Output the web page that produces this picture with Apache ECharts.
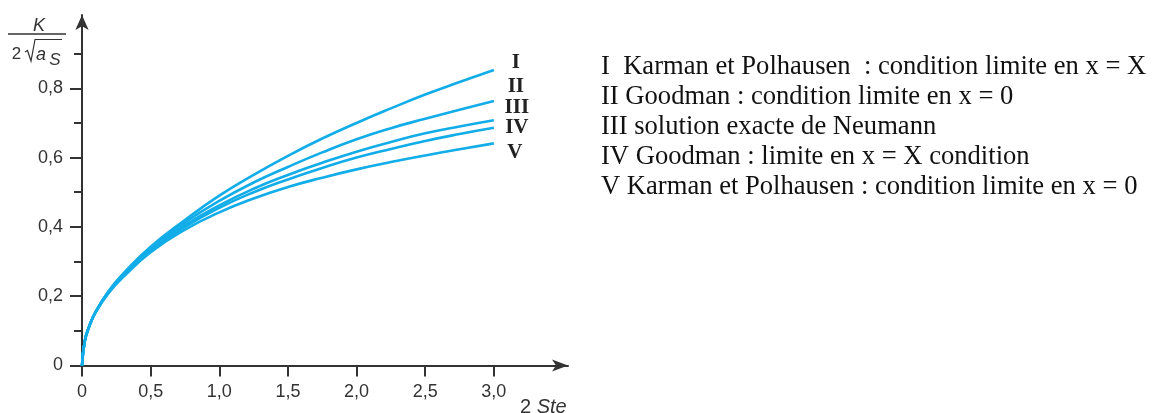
<!DOCTYPE html>
<html>
<head>
<meta charset="utf-8">
<script src="https://cdn.jsdelivr.net/npm/echarts@6/dist/echarts.min.js"></script>
<style>
  html, body { margin: 0; padding: 0; background: #ffffff; }
  #chart { width: 1156px; height: 413px; }
</style>
</head>
<body>
<div id="chart"></div>
<script>
// Abscissa: 2 Ste
const steValues = [0, 0.02, 0.05, 0.1, 0.2, 0.3, 0.5, 0.75, 1.0, 1.25, 1.5, 1.75, 2.0, 2.25, 2.5, 2.75, 3.0];

// Ordinate K / (2 sqrt(a_S)) for each model
const curveI   = [0, 0.07, 0.11, 0.156, 0.218, 0.265, 0.343, 0.420, 0.490, 0.550, 0.605, 0.655, 0.700, 0.742, 0.782, 0.818, 0.853];
const curveII  = [0, 0.07, 0.11, 0.155, 0.216, 0.262, 0.340, 0.413, 0.475, 0.528, 0.573, 0.615, 0.653, 0.685, 0.712, 0.738, 0.763];
const curveIII = [0, 0.07, 0.11, 0.155, 0.216, 0.262, 0.335, 0.405, 0.462, 0.510, 0.550, 0.585, 0.617, 0.645, 0.670, 0.690, 0.708];
const curveIV  = [0, 0.07, 0.11, 0.155, 0.214, 0.258, 0.332, 0.400, 0.455, 0.500, 0.537, 0.570, 0.600, 0.625, 0.648, 0.668, 0.686];
const curveV   = [0, 0.07, 0.11, 0.154, 0.212, 0.255, 0.327, 0.392, 0.442, 0.482, 0.515, 0.542, 0.566, 0.587, 0.606, 0.624, 0.641];

const curveNames = ['I', 'II', 'III', 'IV', 'V'];
const curves = [curveI, curveII, curveIII, curveIV, curveV];

const xTickValues = [0, 0.5, 1.0, 1.5, 2.0, 2.5, 3.0];
const xTickLabels = ['0', '0,5', '1,0', '1,5', '2,0', '2,5', '3,0'];
const yMajorTicks = [0, 0.2, 0.4, 0.6, 0.8];
const yTickLabels = ['0', '0,2', '0,4', '0,6', '0,8'];
const yMinorTicks = [0.1, 0.3, 0.5, 0.7, 0.9];

const legendLines = [
  'I  Karman et Polhausen  : condition limite en x = X',
  'II Goodman : condition limite en x = 0',
  'III solution exacte de Neumann',
  'IV Goodman : limite en x = X condition',
  'V Karman et Polhausen : condition limite en x = 0'
];

// Placement of the roman numeral at the end of each curve (px)
const endLabelOffsets = [[22, -7], [22, -15], [23, -13], [23, 0], [21, 9]];

const axisColor = '#333333';
const curveColor = '#12ade8';
const sansFont = '"Liberation Sans", Arial, sans-serif';
const serifFont = '"Liberation Serif", "Times New Roman", serif';

function lookup(values, labels, v) {
  for (let i = 0; i < values.length; i++) {
    if (Math.abs(values[i] - v) < 1e-6) return labels[i];
  }
  return '';
}

const chart = echarts.init(document.getElementById('chart'), null, { renderer: 'canvas' });

const series = curves.map((c, i) => ({
  name: curveNames[i],
  type: 'line',
  data: steValues.map((x, j) => [x, c[j]]),
  smooth: 0.5,
  showSymbol: false,
  symbol: 'none',
  xAxisIndex: 0,
  yAxisIndex: 0,
  lineStyle: { color: curveColor, width: 2.6 },
  itemStyle: { color: curveColor },
  emphasis: { disabled: true },
  endLabel: {
    show: true,
    formatter: curveNames[i],
    distance: 0,
    align: 'center',
    verticalAlign: 'middle',
    offset: endLabelOffsets[i],
    fontFamily: serifFont,
    fontWeight: 'bold',
    fontSize: 21,
    color: '#222222'
  }
}));

const graphic = [];

// Ordinate title: K over 2 sqrt(a_S)
graphic.push({
  type: 'text', x: 39, y: 26,
  style: { text: 'K', font: 'italic 18px ' + sansFont, fill: axisColor, align: 'center', verticalAlign: 'middle' }
});
graphic.push({
  type: 'line', shape: { x1: 8, y1: 34, x2: 66, y2: 34 },
  style: { stroke: axisColor, lineWidth: 1.3 }
});
graphic.push({
  type: 'text', x: 16.5, y: 54,
  style: { text: '2', font: '17px ' + sansFont, fill: axisColor, align: 'center', verticalAlign: 'middle' }
});
graphic.push({
  type: 'polyline', shape: { points: [[25, 52], [27.5, 50.5], [31, 61], [35, 39.5], [62, 39.5]] },
  style: { stroke: axisColor, lineWidth: 1.2, fill: null }
});
graphic.push({
  type: 'text', x: 41, y: 55,
  style: { text: 'a', font: 'italic 18px ' + sansFont, fill: axisColor, align: 'center', verticalAlign: 'middle' }
});
graphic.push({
  type: 'text', x: 55, y: 60,
  style: { text: 'S', font: 'italic 17px ' + sansFont, fill: axisColor, align: 'center', verticalAlign: 'middle' }
});

// Abscissa title
graphic.push({
  type: 'text', x: 520, y: 397,
  style: {
    text: '{n|2 }{i|Ste}',
    rich: {
      n: { font: '20px ' + sansFont, fill: axisColor },
      i: { font: 'italic 20px ' + sansFont, fill: axisColor }
    },
    align: 'left', verticalAlign: 'top'
  }
});

// Key to the curves
legendLines.forEach((t, i) => {
  graphic.push({
    type: 'text', x: 601, y: 67.5 + i * 30,
    style: { text: t, font: '26.6px ' + serifFont, fill: '#111111', align: 'left', verticalAlign: 'middle' }
  });
});

const option = {
  animation: false,
  backgroundColor: '#ffffff',
  grid: { left: 82, top: 15, right: 588, bottom: 47.5, containLabel: false },
  xAxis: {
    type: 'value', min: 0, max: 3.54,
    axisLine: {
      show: true, onZero: false,
      symbol: ['none', 'arrow'], symbolSize: [9, 16],
      lineStyle: { color: axisColor, width: 2 }
    },
    axisTick: {
      show: true, inside: false, length: 11, customValues: xTickValues,
      lineStyle: { color: axisColor, width: 2 }
    },
    axisLabel: {
      show: true, margin: 18, customValues: xTickValues,
      formatter: v => lookup(xTickValues, xTickLabels, v),
      fontFamily: sansFont, fontSize: 18, color: axisColor
    },
    splitLine: { show: false }
  },
  yAxis: [
    {
      type: 'value', min: 0, max: 1.0115, position: 'left',
      axisLine: {
        show: true, onZero: false,
        symbol: ['none', 'arrow'], symbolSize: [10, 15],
        lineStyle: { color: axisColor, width: 2 }
      },
      axisTick: {
        show: true, inside: false, length: 12, customValues: yMajorTicks,
        lineStyle: { color: axisColor, width: 2 }
      },
      axisLabel: {
        show: true, margin: 19, customValues: yMajorTicks,
        formatter: v => lookup(yMajorTicks, yTickLabels, v),
        fontFamily: sansFont, fontSize: 18, color: axisColor
      },
      splitLine: { show: false }
    },
    {
      type: 'value', min: 0, max: 1.0115, position: 'left', offset: 0,
      axisLine: { show: false },
      axisTick: {
        show: true, inside: false, length: 8, customValues: yMinorTicks,
        lineStyle: { color: axisColor, width: 2 }
      },
      axisLabel: { show: false },
      splitLine: { show: false }
    }
  ],
  series: series,
  graphic: graphic
};

chart.setOption(option);
</script>
</body>
</html>
